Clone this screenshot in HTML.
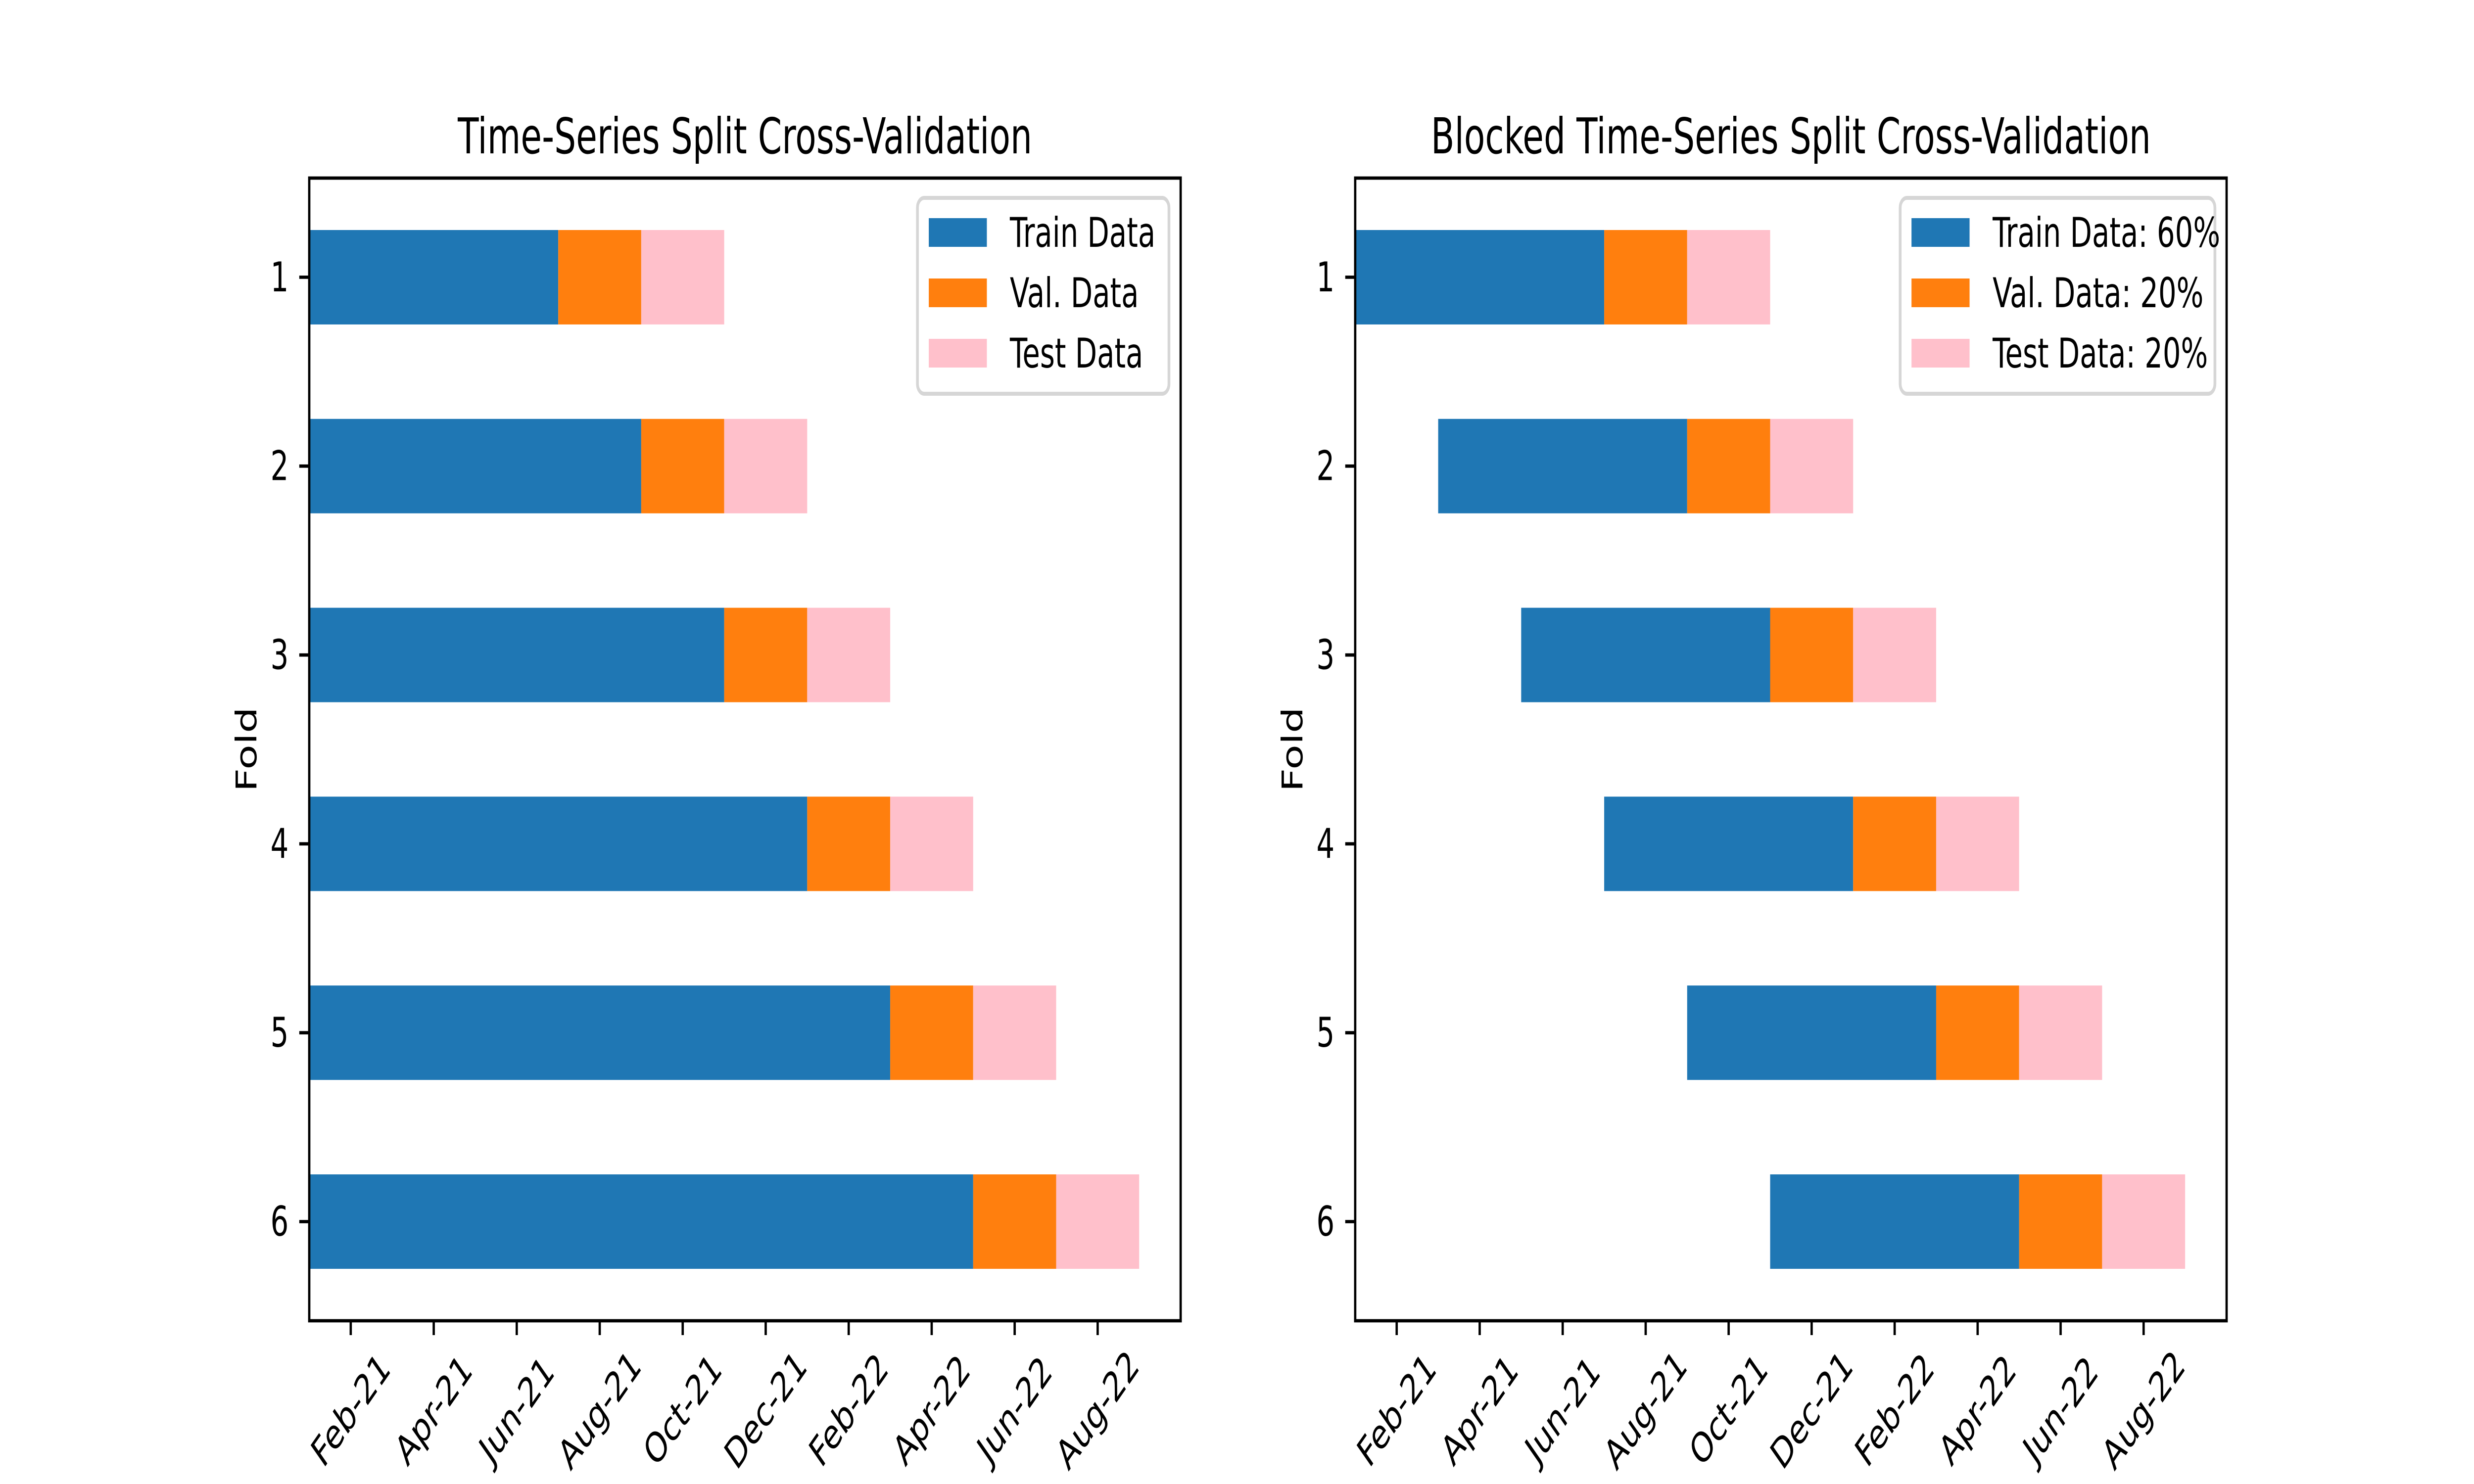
<!DOCTYPE html>
<html><head><meta charset="utf-8">
<style>
html,body{margin:0;padding:0;background:#fff;overflow:hidden;width:100%;height:100%;}
svg{display:block;width:100vw;height:100vh;font-family:"DejaVu Sans","Liberation Sans",sans-serif;}
</style></head>
<body>
<svg id="fig" viewBox="0 0 7200 3000" preserveAspectRatio="none" xmlns="http://www.w3.org/2000/svg">
<rect width="7200" height="3000" fill="#fff"/>
</svg>
<script>
// ---- data (months since Jan-2021) ----
const folds = [1, 2, 3, 4, 5, 6];
const tsTrainStart = [0, 0, 0, 0, 0, 0];
const tsTrainEnd = [6, 8, 10, 12, 14, 16];
const blockedTrainStart = [0, 2, 4, 6, 8, 10];
const blockedTrainEnd = [6, 8, 10, 12, 14, 16];
const valLength = [2, 2, 2, 2, 2, 2];
const testLength = [2, 2, 2, 2, 2, 2];
const xTickMonths = [1, 3, 5, 7, 9, 11, 13, 15, 17, 19];
const xTickLabels = ["Feb-21","Apr-21","Jun-21","Aug-21","Oct-21","Dec-21","Feb-22","Apr-22","Jun-22","Aug-22"];
const legendLeft = ["Train Data","Val. Data","Test Data"];
const legendRight = ["Train Data: 60%","Val. Data: 20%","Test Data: 20%"];

const NS = "http://www.w3.org/2000/svg";
const svg = document.getElementById('fig');
const COLORS = ["#1f77b4","#ff7f0e","#ffc0cb"];
function mk(tag, attrs, parent){
  const e = document.createElementNS(NS, tag);
  for (const k in attrs) e.setAttribute(k, attrs[k]);
  (parent||svg).appendChild(e);
  return e;
}

function drawPanel(px, title, trainStart, trainEnd, legendLabels, legendLeftX, prefix){
  const axL = px, axR = px + 2536, axT = 360, axB = 2670;
  const xMax = Math.max(...trainEnd.map((e,i)=>e+valLength[i]+testLength[i])) * 1.05;
  const xMin = Math.min(...trainStart);
  const xs = m => axL + (m - xMin) / (xMax - xMin) * (axR - axL);
  const yMin = -0.25 - 0.05*5.5, yMax = folds.length - 1 + 0.25 + 0.05*5.5;
  const ys = v => axT + (v - yMin) / (yMax - yMin) * (axB - axT);

  const g = mk('g', {});
  
  

  folds.forEach((f, i) => {
    const yc = ys(i), h = ys(0.25) - ys(-0.25);
    const segs = [
      [trainStart[i], trainEnd[i]],
      [trainEnd[i], trainEnd[i] + valLength[i]],
      [trainEnd[i] + valLength[i], trainEnd[i] + valLength[i] + testLength[i]]
    ];
    const names = ['train','val','test'];
    segs.forEach((s, j) => {
      const r = mk('rect', {x: xs(s[0]), y: yc - h/2, width: xs(s[1]) - xs(s[0]), height: h, fill: COLORS[j]}, g);
      
      
    });
    const tk = mk('line', {x1: axL - 29, x2: axL, y1: yc, y2: yc, stroke: '#000', 'stroke-width': 6.7}, g);
    
    
    const tl = mk('text', {x: axL - 60, y: yc, 'font-size': 83, 'text-anchor': 'end', 'dominant-baseline': 'central'}, g);
    tl.textContent = f;
    
    
  });

  xTickMonths.forEach((m, i) => {
    const x = xs(m);
    const tk = mk('line', {x1: x, x2: x, y1: axB, y2: axB + 29, stroke: '#000', 'stroke-width': 6.7}, g);
    
    
    const t = mk('text', {x: x, y: 2850, 'font-size': 83, 'text-anchor': 'middle', 'dominant-baseline': 'central', transform: 'rotate(-45 ' + x + ' 2850)'}, g);
    t.textContent = xTickLabels[i];
    
    
  });

  const frame = mk('rect', {x: axL, y: axT, width: axR - axL, height: axB - axT, fill: 'none', stroke: '#000', 'stroke-width': 6.7}, g);
  
  

  const tt = mk('text', {x: (axL + axR)/2, y: 310, 'font-size': 100, 'text-anchor': 'middle'}, g);
  tt.textContent = title;
  
  

  const ylx = axL - 154, yly = (axT + axB)/2;
  const yl = mk('text', {x: ylx, y: yly, 'font-size': 83, 'text-anchor': 'middle', transform: 'rotate(-90 ' + ylx + ' ' + yly + ')'}, g);
  yl.textContent = 'Fold';
  
  

  const lg = mk('g', {}, g);
  
  
  const lx = legendLeftX, rx = axR - 34;
  const box = mk('rect', {x: lx, y: 400, width: rx - lx, height: 396, rx: 20, ry: 20, fill: '#fff', 'fill-opacity': 0.8, stroke: '#d6d6d6', 'stroke-width': 8}, lg);
  
  
  legendLabels.forEach((lab, j) => {
    const top = 441 + j*122;
    const sw = mk('rect', {x: lx + 33, y: top, width: 169, height: 58, fill: COLORS[j]}, lg);
    
    
    const tx = mk('text', {x: lx + 269, y: top + 58, 'font-size': 83}, lg);
    tx.textContent = lab;
    
    
  });
}

drawPanel(900, 'Time-Series Split Cross-Validation', tsTrainStart, tsTrainEnd, legendLeft, 2670, 'ts');
drawPanel(3944, 'Blocked Time-Series Split Cross-Validation', blockedTrainStart, blockedTrainEnd, legendRight, 5530, 'blocked');
</script>
</body></html>
